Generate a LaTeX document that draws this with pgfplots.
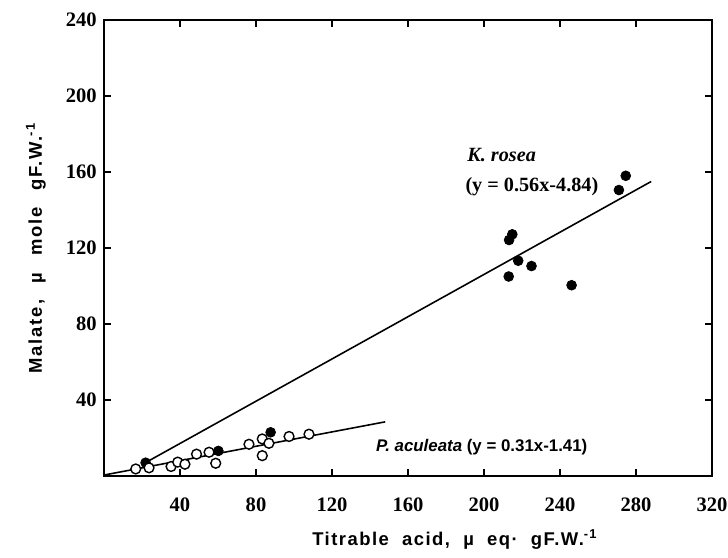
\documentclass[border=0pt]{standalone}
\usepackage{fontspec}
\setmainfont{Liberation Serif}
\setsansfont{Liberation Sans}
\usepackage{pgfplots}
\pgfplotsset{compat=1.18}

% K. rosea (filled) and P. aculeata (open) points
\pgfplotstableread{
x y
21.9 7.0
60.2 13.2
87.7 23.0
213.0 105.0
213.2 124.2
214.9 127.2
218.0 113.3
225.0 110.5
246.1 100.4
271.0 150.5
274.6 158.0
}\krosea
\pgfplotstableread{
x y
16.7 3.7
23.7 4.3
35.3 5.0
38.8 7.3
42.6 6.2
48.7 11.5
55.3 12.5
58.8 6.7
76.3 16.7
83.3 19.5
83.3 10.7
86.8 17.2
97.4 20.8
107.9 22.0
}\paculeata

\begin{document}
\begin{tikzpicture}
\begin{axis}[
    width=12.16cm, height=9.12cm, scale only axis,
    xmin=0, xmax=320, ymin=0, ymax=240,
    xtick={40,80,...,320}, ytick={40,80,...,240},
    tick align=inside, major tick length=0.14cm,
    axis line style={line width=1.1pt},
    every tick/.style={black, line width=0.9pt},
    /pgf/number format/assume math mode=true,
    tick label style={font=\fontsize{11.7}{13}\selectfont\bfseries},
    xticklabel style={inner sep=0pt, anchor=north, yshift=-0.42cm},
    yticklabel style={inner sep=0pt, anchor=east, xshift=-0.14cm},
    xlabel={\addfontfeature{LetterSpace=8}Titrable\ \ acid,\ \ µ\ \ eq·\ \ gF.W.\textsuperscript{-1}},
    ylabel={\addfontfeature{LetterSpace=10}Malate,\hspace{0.9em}µ\hspace{0.9em}mole\hspace{0.9em}gF.W.\textsuperscript{-1}},
    label style={font=\sffamily\bfseries\fontsize{10.5}{12}\selectfont},
    xlabel style={at={(axis description cs:0.577,-0.14)}, anchor=center},
    ylabel style={at={(axis description cs:-0.112,0.5)}, anchor=center},
    clip=false,
]
\addplot[black, line width=0.9pt] coordinates {(20,6.0) (288,155)};
\addplot[black, line width=0.9pt] coordinates {(0,0.5) (148,28.5)};
\addplot[only marks, mark=*, mark size=2.8pt, mark options={fill=black, draw=black}] table {\krosea};
\addplot[only marks, mark=*, mark size=2.8pt, mark options={fill=white, draw=black, line width=0.8pt}] table {\paculeata};
\node[anchor=west, font=\fontsize{11.5}{13}\selectfont\bfseries\itshape] at (axis cs:188,169) {K. rosea};
\node[anchor=west, font=\fontsize{11.5}{13}\selectfont\bfseries] at (axis cs:187,152.5) {(y = 0.56x-4.84)};
\node[anchor=west, font=\sffamily\bfseries\fontsize{9.6}{11}\selectfont] at (axis cs:140,15.3) {\textit{P. aculeata} (y = 0.31x-1.41)};
\coordinate (SW) at (rel axis cs:0,0);
\coordinate (NE) at (rel axis cs:1,1);
\end{axis}
\pgfresetboundingbox
\path ([shift={(-2.08cm,-1.64cm)}]SW) rectangle ([shift={(0.32cm,0.40cm)}]NE);
\end{tikzpicture}
\end{document}
